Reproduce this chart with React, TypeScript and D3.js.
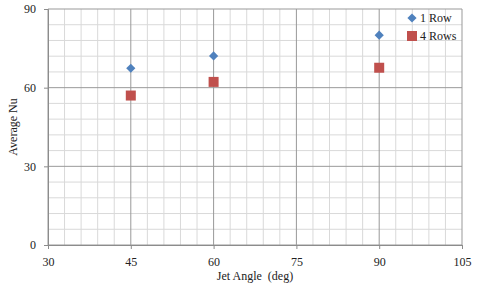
import React, { useRef, useEffect } from "react"
import * as d3 from "d3"

const angles = [45, 60, 90]
const oneRow = [67.4, 72.1, 80]
const fourRows = [57, 62.2, 67.6]
const seriesNames = ["1 Row", "4 Rows"]
const xTicks = [30, 45, 60, 75, 90, 105]
const yTicks = [0, 30, 60, 90]

const width = 480
const height = 294
const margin = { top: 9, right: 18, bottom: 49, left: 48 }

const App: React.FC = () => {
  const svgRef = useRef<SVGSVGElement | null>(null)

  useEffect(() => {
    if (!svgRef.current) return
    const svg = d3.select(svgRef.current)
    svg.selectAll("*").remove()

    const font = "'Liberation Serif', 'Times New Roman', serif"
    const x = d3.scaleLinear().domain([30, 105]).range([margin.left, width - margin.right])
    const y = d3.scaleLinear().domain([0, 90]).range([height - margin.bottom, margin.top])

    // minor grid
    const g = svg.append("g")
    g.selectAll(".vx")
      .data(d3.range(30, 106, 3).filter((v) => v % 15 !== 0))
      .join("line")
      .attr("x1", (d) => x(d)).attr("x2", (d) => x(d))
      .attr("y1", y(0)).attr("y2", y(90))
      .attr("stroke", "#d9d9d9").attr("stroke-width", 1)
    g.selectAll(".hy")
      .data(d3.range(0, 91, 6).filter((v) => v % 30 !== 0))
      .join("line")
      .attr("x1", x(30)).attr("x2", x(105))
      .attr("y1", (d) => y(d)).attr("y2", (d) => y(d))
      .attr("stroke", "#d9d9d9").attr("stroke-width", 1)

    // major grid
    g.selectAll(".mx")
      .data(xTicks)
      .join("line")
      .attr("x1", (d) => x(d)).attr("x2", (d) => x(d))
      .attr("y1", y(0)).attr("y2", y(90))
      .attr("stroke", "#999").attr("stroke-width", 1)
    g.selectAll(".my")
      .data(yTicks)
      .join("line")
      .attr("x1", x(30)).attr("x2", x(105))
      .attr("y1", (d) => y(d)).attr("y2", (d) => y(d))
      .attr("stroke", "#999").attr("stroke-width", 1)

    // axes
    const xAxis = svg.append("g")
      .attr("transform", `translate(0,${y(0)})`)
      .call(d3.axisBottom(x).tickValues(xTicks).tickSize(4).tickPadding(8))
    const yAxis = svg.append("g")
      .attr("transform", `translate(${x(30)},0)`)
      .call(d3.axisLeft(y).tickValues(yTicks).tickSize(4).tickPadding(8))
    for (const a of [xAxis, yAxis]) {
      a.select(".domain").attr("stroke", "#8c8c8c")
      a.selectAll(".tick line").attr("stroke", "#8c8c8c")
      a.selectAll("text").attr("fill", "#222").style("font-family", font).style("font-size", "12px")
    }

    // axis titles
    svg.append("text")
      .attr("x", x(67.5)).attr("y", height - 14)
      .attr("text-anchor", "middle")
      .style("font-family", font).style("font-size", "12px").attr("fill", "#222")
      .attr("xml:space", "preserve")
      .text("Jet Angle  (deg)")
    svg.append("text")
      .attr("transform", `translate(17,${y(45)}) rotate(-90)`)
      .attr("text-anchor", "middle")
      .style("font-family", font).style("font-size", "12px").attr("fill", "#222")
      .text("Average Nu")

    const blue = "#4f81bd"
    const red = "#c0504d"
    const diamond = d3.symbol().type(d3.symbolDiamond2).size(54)

    svg.append("g").selectAll("path")
      .data(angles)
      .join("path")
      .attr("transform", (d, i) => `translate(${x(d)},${y(oneRow[i])})`)
      .attr("d", diamond)
      .attr("fill", blue)

    svg.append("g").selectAll("rect")
      .data(angles)
      .join("rect")
      .attr("x", (d) => x(d) - 5).attr("y", (d, i) => y(fourRows[i]) - 5)
      .attr("width", 10).attr("height", 10)
      .attr("fill", red)

    // legend
    const leg = svg.append("g").attr("transform", `translate(412,18)`)
    leg.append("path").attr("d", diamond).attr("fill", blue)
    leg.append("rect").attr("x", -5).attr("y", 13).attr("width", 10).attr("height", 10).attr("fill", red)
    leg.selectAll("text")
      .data(seriesNames)
      .join("text")
      .attr("x", 8).attr("y", (d, i) => i * 18 + 4)
      .style("font-family", font).style("font-size", "12px").attr("fill", "#222")
      .text((d) => d)
  }, [])

  return <svg ref={svgRef} width={width} height={height} style={{ position: "absolute", left: 0, top: 0, background: "#fff" }}></svg>
}

export default App
